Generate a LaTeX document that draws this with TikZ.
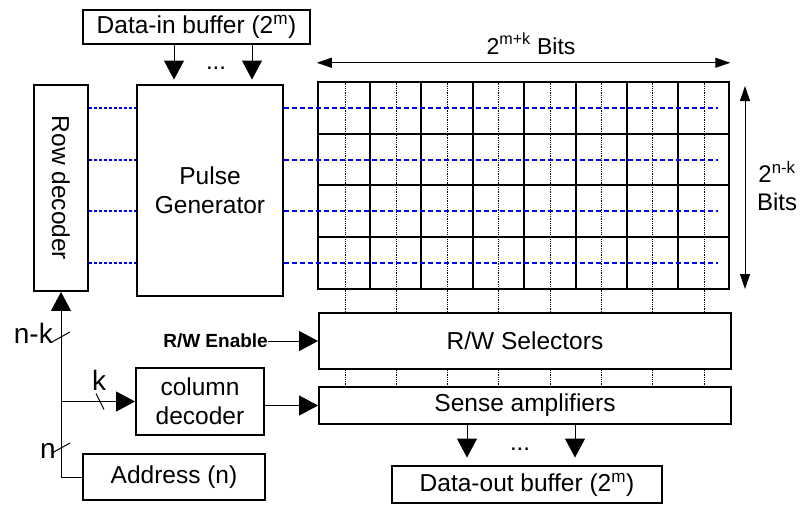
\documentclass[tikz,border=0pt]{standalone}
\usepackage{fontspec}
\setmainfont{Liberation Sans}
\usetikzlibrary{arrows.meta}
\begin{document}
\begin{tikzpicture}[x=1pt,y=-1pt,
  box/.style={draw, line width=1.9pt, inner sep=0pt, align=center,
    font=\fontsize{24.5}{29}\selectfont},
  conn/.style={line width=1pt},
  bigtip/.style={-{Triangle[length=19pt,width=20pt]}},
  dimtip/.style={{Triangle[length=15pt,width=10pt]}-{Triangle[length=15pt,width=10pt]}},
  gridline/.style={line width=2.5pt},
  bitline/.style={line width=1pt, dash pattern=on 1pt off 0.8pt},
  wordA/.style={blue, line width=1.8pt, dash pattern=on 3pt off 2pt},
  wordB/.style={blue, line width=1.8pt, dash pattern=on 5pt off 3pt},
  lbl/.style={font=\fontsize{28}{30}\selectfont, inner sep=0pt}
]
\useasboundingbox (0,0) rectangle (800,506);

% boxes
\node[box, minimum width=227pt, minimum height=34pt] (din) at (196.5,27) {Data-in buffer (2\textsuperscript{m})};
\node[box, minimum width=54pt, minimum height=206pt] (rd) at (61,188) {};
\node[rotate=-90, font=\fontsize{24.5}{29}\selectfont] (rdtext) at (rd.center) {Row decoder};
\node[box, minimum width=146pt, minimum height=211pt] (pg) at (210,190.5) {Pulse\\Generator};
\node[draw, line width=2.5pt, minimum width=411pt, minimum height=207pt, inner sep=0pt] (array) at (523.5,185.5) {};
\node[box, minimum width=412pt, minimum height=56pt] (rw) at (525,341) {R/W Selectors};
\node[box, minimum width=412pt, minimum height=37pt] (sa) at (525,405.5) {Sense amplifiers};
\node[box, minimum width=270pt, minimum height=37pt] (dout) at (527,484.5) {Data-out buffer (2\textsuperscript{m})};
\node[box, minimum width=128pt, minimum height=67pt] (cd) at (200,401.5) {column\\decoder};
\node[box, minimum width=182pt, minimum height=46pt] (addr) at (174,477) {Address (n)};

% memory array grid
\foreach \x in {370,421,473,524,576,627,678} {
  \draw[gridline] (\x,82) -- (\x,289);
}
\foreach \y in {134,185,237} {
  \draw[gridline] (318,\y) -- (729,\y);
}
% bit lines
\foreach \x [count=\j] in {345,396,447,498,550,601,652,704} {
  \coordinate (bl\j) at (\x,0);
  \draw[bitline] (array.north -| bl\j) -- (rw.north -| bl\j);
  \draw[bitline] (rw.south -| bl\j) -- (sa.north -| bl\j);
}
% word lines
\foreach \y [count=\i] in {108,160,211,263} {
  \coordinate (wl\i) at (718,\y);
  \draw[wordA] (rd.east |- wl\i) -- (pg.west |- wl\i);
  \draw[wordB] (pg.east |- wl\i) -- (wl\i);
}

% data-in arrows
\coordinate (xa) at (174,0);
\coordinate (xb) at (252,0);
\draw[conn, bigtip, shorten >=4.5pt] (din.south -| xa) -- (pg.north -| xa);
\draw[conn, bigtip, shorten >=4.5pt] (din.south -| xb) -- (pg.north -| xb);
\node[font=\fontsize{24}{28}\selectfont, anchor=base, inner sep=0pt] (dotsin) at (216,69) {...};

% dimension arrows
\draw[conn, dimtip] ([yshift=18pt]array.north west) -- ([yshift=18pt]array.north east);
\node[font=\fontsize{23}{28}\selectfont, anchor=base, inner sep=0pt] (wlab) at (531,54) {2\textsuperscript{m+k} Bits};
\coordinate (ra) at (745,86);
\coordinate (rb) at (745,289);
\draw[conn, dimtip] (ra) -- (rb);
\node[font=\fontsize{24}{28}\selectfont, align=center, inner sep=0pt] (hlab) at (777,186) {2\textsuperscript{n-k}\\Bits};

% address paths
\draw[conn, bigtip] (addr.west) -| (rd.south);
\draw[conn, bigtip] (cd.west -| rd.south) -- (cd.west);

% bus slashes
\coordinate (s1) at (61,337);
\draw[conn] (s1) ++(-9,5) -- ++(18,-10);
\coordinate (s2) at (100,401.5);
\draw[conn] (s2) ++(-4,-8) -- ++(8,16);
\coordinate (s3) at (61,448);
\draw[conn] (s3) ++(-9,5) -- ++(18,-10);
\node[lbl, anchor=base east] (lnk) at (53,343) {n-k};
\node[lbl, anchor=base west] (lk) at (92,390) {k};
\node[lbl, anchor=base east] (ln) at (56,458) {n};

% R/W enable
\node[font=\bfseries\fontsize{19}{22}\selectfont, anchor=east, inner sep=0pt] (rwen) at (268,341) {R/W Enable};
\draw[conn, bigtip] (rwen.east) -- (rw.west);

% column decoder to sense amplifiers
\draw[conn, bigtip] (cd.east |- sa.west) -- (sa.west);

% data-out arrows
\coordinate (xc) at (467,0);
\coordinate (xd) at (575,0);
\draw[conn, bigtip, shorten >=7.5pt] (sa.south -| xc) -- (dout.north -| xc);
\draw[conn, bigtip, shorten >=7.5pt] (sa.south -| xd) -- (dout.north -| xd);
\node[font=\fontsize{24}{28}\selectfont, anchor=base, inner sep=0pt] (dotsout) at (520,450) {...};
\end{tikzpicture}
\end{document}
